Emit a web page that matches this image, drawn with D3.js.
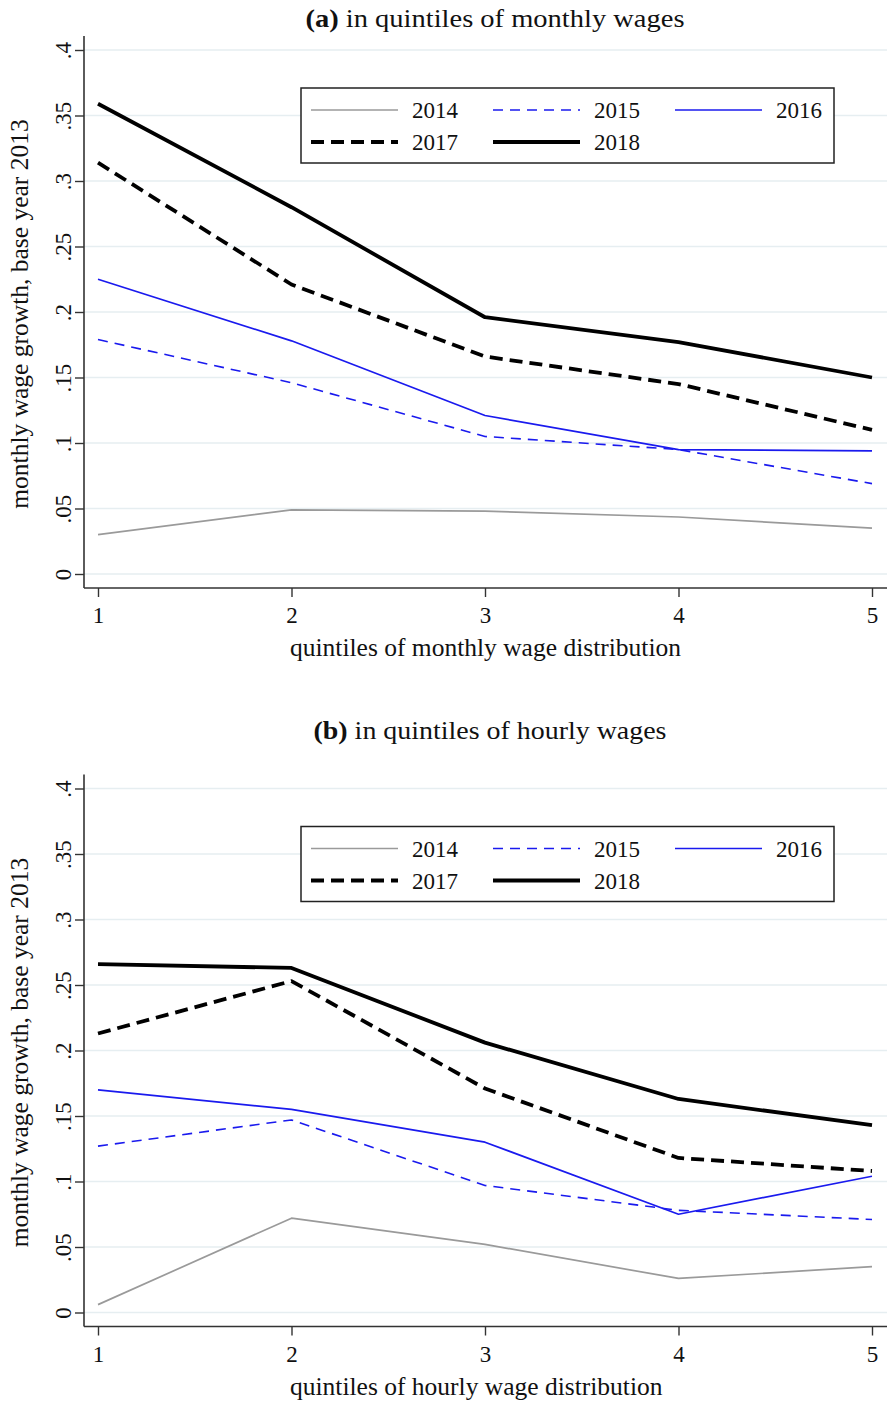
<!DOCTYPE html>
<html>
<head>
<meta charset="utf-8">
<script src="https://cdn.jsdelivr.net/npm/d3@7/dist/d3.min.js"></script>
<style>
  body { margin: 0; background: #fff; }
  svg text { font-family: "Liberation Serif", "Times New Roman", serif; fill: #111; }
</style>
</head>
<body>
<div id="chart"></div>
<script>
var quintiles = [ 1, 2, 3, 4, 5 ];
var years = [ '2014', '2015', '2016', '2017', '2018' ];
var yTicks = [ 0, 0.05, 0.1, 0.15, 0.2, 0.25, 0.3, 0.35, 0.4 ];
var yTickLabels = [ '0', '.05', '.1', '.15', '.2', '.25', '.3', '.35', '.4' ];

// panel (a): monthly wages
var monthly2014 = [ 0.030, 0.049, 0.048, 0.0435, 0.035 ];
var monthly2015 = [ 0.179, 0.146, 0.105, 0.095, 0.069 ];
var monthly2016 = [ 0.225, 0.178, 0.121, 0.095, 0.094 ];
var monthly2017 = [ 0.314, 0.221, 0.166, 0.145, 0.110 ];
var monthly2018 = [ 0.359, 0.280, 0.196, 0.177, 0.150 ];

// panel (b): hourly wages
var hourly2014 = [ 0.006, 0.072, 0.052, 0.026, 0.035 ];
var hourly2015 = [ 0.127, 0.147, 0.097, 0.078, 0.071 ];
var hourly2016 = [ 0.170, 0.155, 0.130, 0.075, 0.104 ];
var hourly2017 = [ 0.213, 0.253, 0.171, 0.118, 0.108 ];
var hourly2018 = [ 0.266, 0.263, 0.206, 0.163, 0.143 ];

var styles = {
  '2014': { color: '#9a9a9a', width: 1.7, dash: null },
  '2015': { color: '#1a1aee', width: 1.6, dash: '10,7' },
  '2016': { color: '#1a1aee', width: 1.7, dash: null },
  '2017': { color: '#000', width: 3.8, dash: '13,7' },
  '2018': { color: '#000', width: 3.8, dash: null }
};

var W = 889, H = 1403;

var svg = d3.select( '#chart' ).append( 'svg' )
  .attr( 'width', W )
  .attr( 'height', H );

function drawPanel( top, titleX, titleY, titleLen, label, title, xTitle, series ) {

  var g = svg.append( 'g' )
    .attr( 'transform', 'translate(0,' + top + ')' );

  var xScale = d3.scaleLinear().domain( [ 1, 5 ] ).range( [ 98, 872 ] ),
    yScale = d3.scaleLinear().domain( [ 0, 0.4 ] ).range( [ 574, 50 ] );

  var left = 84, right = 887, bottom = 588, axisTop = 36;

  // title (bold panel letter, then plain text)
  var t = g.append( 'text' )
    .attr( 'x', titleX )
    .attr( 'y', titleY )
    .attr( 'text-anchor', 'middle' )
    .attr( 'textLength', titleLen )
    .attr( 'lengthAdjust', 'spacingAndGlyphs' )
    .style( 'font-size', '25px' );
  t.append( 'tspan' ).style( 'font-weight', 'bold' ).text( label );
  t.append( 'tspan' ).text( ' ' + title );

  // grid
  g.selectAll( '.grid' )
    .data( yTicks )
    .enter()
    .append( 'line' )
      .attr( 'x1', left )
      .attr( 'x2', right )
      .attr( 'y1', d => yScale( d ) )
      .attr( 'y2', d => yScale( d ) )
      .attr( 'stroke', '#e6eef1' )
      .attr( 'stroke-width', 1.6 );

  // y axis
  var yAxis = d3.axisLeft( yScale )
    .tickValues( yTicks )
    .tickFormat( ( d, i ) => yTickLabels[ i ] )
    .tickSize( 9 )
    .tickSizeOuter( 0 );

  var ya = g.append( 'g' )
    .attr( 'transform', 'translate(' + left + ',0)' )
    .call( yAxis );
  ya.select( '.domain' ).remove();
  ya.selectAll( '.tick line' ).attr( 'stroke', '#333' ).attr( 'stroke-width', 1.4 );
  ya.selectAll( '.tick text' )
    .attr( 'x', null ).attr( 'dy', null )
    .attr( 'transform', 'translate(-13,0) rotate(-90)' )
    .attr( 'text-anchor', 'middle' )
    .attr( 'y', 0 )
    .style( 'font-size', '23px' )
    .style( 'font-family', '"Liberation Serif", serif' )
    .attr( 'fill', '#111' );

  g.append( 'line' )
    .attr( 'x1', left ).attr( 'x2', left )
    .attr( 'y1', axisTop ).attr( 'y2', bottom )
    .attr( 'stroke', '#333' ).attr( 'stroke-width', 1.6 );

  // x axis
  var xAxis = d3.axisBottom( xScale )
    .tickValues( quintiles )
    .tickFormat( d3.format( 'd' ) )
    .tickSize( 9 )
    .tickSizeOuter( 0 );

  var xa = g.append( 'g' )
    .attr( 'transform', 'translate(0,' + bottom + ')' )
    .call( xAxis );
  xa.select( '.domain' ).remove();
  xa.selectAll( '.tick line' ).attr( 'stroke', '#333' ).attr( 'stroke-width', 1.4 );
  xa.selectAll( '.tick text' )
    .attr( 'dy', null )
    .attr( 'y', 35 )
    .style( 'font-size', '23px' )
    .style( 'font-family', '"Liberation Serif", serif' )
    .attr( 'fill', '#111' );

  g.append( 'line' )
    .attr( 'x1', left ).attr( 'x2', right )
    .attr( 'y1', bottom ).attr( 'y2', bottom )
    .attr( 'stroke', '#333' ).attr( 'stroke-width', 1.6 );

  // axis titles
  g.append( 'text' )
    .attr( 'x', 290 )
    .attr( 'y', 656 )
    .attr( 'text-anchor', 'start' )
    .style( 'font-size', '25.5px' )
    .text( xTitle );

  g.append( 'text' )
    .attr( 'transform', 'translate(28,314) rotate(-90)' )
    .attr( 'text-anchor', 'middle' )
    .style( 'font-size', '25.5px' )
    .text( 'monthly wage growth, base year 2013' );

  // lines
  var line = d3.line()
    .x( ( d, i ) => xScale( quintiles[ i ] ) )
    .y( d => yScale( d ) );

  years.forEach( function( y, k ) {
    var s = styles[ y ];
    g.append( 'path' )
      .datum( series[ k ] )
      .attr( 'd', line )
      .attr( 'fill', 'none' )
      .attr( 'stroke', s.color )
      .attr( 'stroke-width', s.width )
      .attr( 'stroke-dasharray', s.dash )
      .attr( 'stroke-linejoin', 'round' );
  } );

  // legend
  var lg = g.append( 'g' );
  lg.append( 'rect' )
    .attr( 'x', 301 ).attr( 'y', 88 )
    .attr( 'width', 533 ).attr( 'height', 75 )
    .attr( 'fill', '#fff' )
    .attr( 'stroke', '#222' ).attr( 'stroke-width', 1.5 );

  var colX = [ 311, 493, 675 ], rowY = [ 110, 142 ];

  years.forEach( function( y, k ) {
    var s = styles[ y ],
      cx = colX[ k % 3 ], cy = rowY[ Math.floor( k / 3 ) ];
    lg.append( 'line' )
      .attr( 'x1', cx ).attr( 'x2', cx + 87 )
      .attr( 'y1', cy ).attr( 'y2', cy )
      .attr( 'stroke', s.color )
      .attr( 'stroke-width', s.width )
      .attr( 'stroke-dasharray', s.dash );
    lg.append( 'text' )
      .attr( 'x', cx + 101 )
      .attr( 'y', cy + 8 )
      .style( 'font-size', '23px' )
      .text( y );
  } );
}

drawPanel( 0, 495, 27, 379, '(a)', 'in quintiles of monthly wages', 'quintiles of monthly wage distribution',
  [ monthly2014, monthly2015, monthly2016, monthly2017, monthly2018 ] );

drawPanel( 738.5, 490, 0, 353, '(b)', 'in quintiles of hourly wages', 'quintiles of hourly wage distribution',
  [ hourly2014, hourly2015, hourly2016, hourly2017, hourly2018 ] );
</script>
</body>
</html>
